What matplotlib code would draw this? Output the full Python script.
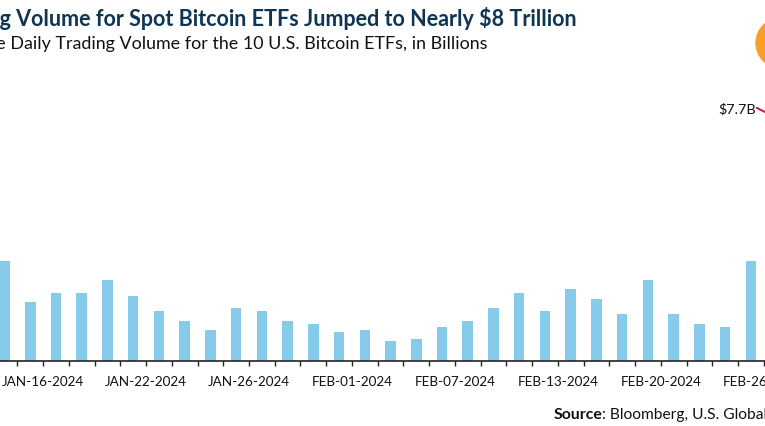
"""
Spot Bitcoin ETF daily trading volume, cropped bar chart
"""

import matplotlib
matplotlib.use('Agg')
import matplotlib.pyplot as plt
from matplotlib.patches import Circle

plt.rcParams['font.family'] = ['Lato', 'DejaVu Sans']

# ============================================================
# data
# ============================================================
volume_billions = [2.40, 1.42, 1.63, 1.63, 1.94, 1.56, 1.20, 0.96, 0.74, 1.27,
                   1.20, 0.96, 0.89, 0.70, 0.74, 0.48, 0.53, 0.82, 0.96, 1.27,
                   1.63, 1.20, 1.73, 1.49, 1.13, 1.94, 1.13, 0.89, 0.82, 2.40]
tick_positions = [i - 0.5 for i in range(1, 31)]
date_labels = ['JAN-16-2024', 'JAN-22-2024', 'JAN-26-2024', 'FEB-01-2024',
               'FEB-07-2024', 'FEB-13-2024', 'FEB-20-2024', 'FEB-26-2024']

TITLE = 'Trading Volume for Spot Bitcoin ETFs Jumped to Nearly $8 Trillion'
SUBTITLE = 'Aggregate Daily Trading Volume for the 10 U.S. Bitcoin ETFs, in Billions'

W, H = 765, 426
BASELINE_Y = 361

fig = plt.figure(figsize=(W / 100, H / 100), dpi=100, facecolor='white')
ax = fig.add_axes([0, (H - BASELINE_Y) / H, 1, BASELINE_Y / H])

# ============================================================
# bars and axis
# ============================================================
ax.bar(range(len(volume_billions)), volume_billions, width=0.41, color='#87cbea')

ax.set_xlim(-0.175, 29.55)
ax.set_ylim(0, 8.664)
ax.patch.set_alpha(0)
for side in ['top', 'left', 'right']:
    ax.spines[side].set_visible(False)
ax.spines['bottom'].set_color('#222222')
ax.spines['bottom'].set_linewidth(1.2)
ax.set_yticks([])

# every 4th tick carries a date
ax.set_xticks(tick_positions)
ax.set_xticklabels(['' if (i - 1) % 4 else date_labels[(i - 1) // 4]
                    for i in range(len(tick_positions))])
ax.tick_params(axis='x', length=3.5, width=1, color='#222222', pad=7.5,
               labelsize=9.7, labelcolor='#111111')

# ============================================================
# text
# ============================================================
fig.text(577 / W, 1 - 19 / H, TITLE, ha='right', va='center',
         fontsize=15.5, fontweight='bold', color='#0e3553')
fig.text(488 / W, 1 - 44 / H, SUBTITLE, ha='right', va='center',
         fontsize=12.9, color='#111111')
fig.text(554 / W, 1 - 415 / H, 'Source', ha='left', va='center',
         fontsize=11.4, fontweight='bold', color='#111111')
fig.text(602 / W, 1 - 415 / H, ': Bloomberg, U.S. Global Investors', ha='left', va='center',
         fontsize=11.2, color='#111111')

# ============================================================
# callout and logo
# ============================================================
fig.text(756 / W, 1 - 109 / H, '$7.7B', ha='right', va='center',
         fontsize=10.4, color='#111111')
fig.add_artist(plt.Line2D([757 / W, 765 / W], [1 - 108 / H, 1 - 112 / H],
                          color='#c8233f', linewidth=1.5))
fig.add_artist(Circle((781, H - 43), 25, transform=None, color='#f7a029'))

fig.savefig('out.png', dpi=100)
